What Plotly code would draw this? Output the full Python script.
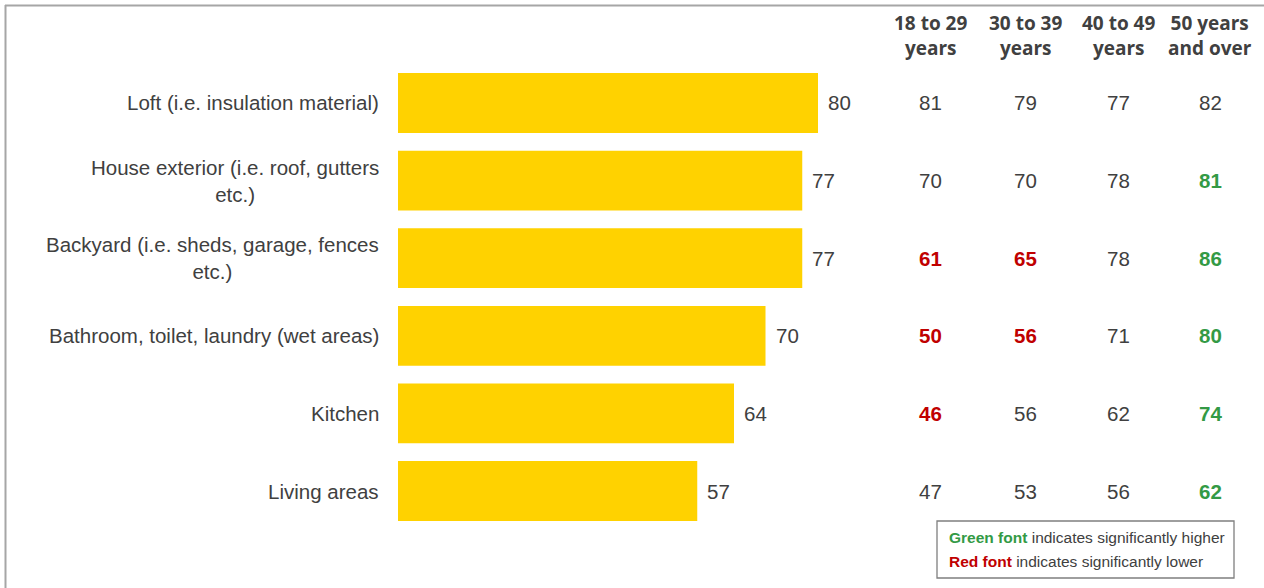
import plotly.graph_objects as go

# Areas of the home and overall scores
categories = [
    "Loft (i.e. insulation material)",
    "House exterior (i.e. roof, gutters<br>etc.)",
    "Backyard (i.e. sheds, garage, fences<br>etc.)",
    "Bathroom, toilet, laundry (wet areas)",
    "Kitchen",
    "Living areas",
]
overall = [80, 77, 77, 70, 64, 57]

# Scores by age group
age_groups = ["18 to 29<br>years", "30 to 39<br>years", "40 to 49<br>years", "50 years<br>and over"]
age_18_29 = [81, 70, 61, 50, 46, 47]
age_30_39 = [79, 70, 65, 56, 56, 53]
age_40_49 = [77, 78, 78, 71, 62, 56]
age_50_plus = [82, 81, 86, 80, 74, 62]

# Significance flags: +1 higher, -1 lower, 0 not significant
sig_18_29 = [0, 0, -1, -1, -1, 0]
sig_30_39 = [0, 0, -1, -1, 0, 0]
sig_40_49 = [0, 0, 0, 0, 0, 0]
sig_50_plus = [0, 1, 1, 1, 1, 1]

W, H = 1264, 588
BAR_COLOR = "#FFD200"
TEXT = "#404040"
RED = "#C00000"
GREEN = "#339A45"
FRAME = "#A6A6A6"
FONT = "Liberation Sans, Arial, sans-serif"
HEAD_FONT = "Open Sans, DejaVu Sans, sans-serif"
FS = 20.5


def px(x):
    return x / W


def py(y):
    return 1 - y / H


idx = list(range(len(categories)))

fig = go.Figure(
    go.Bar(
        x=overall,
        y=idx,
        orientation="h",
        marker=dict(color=BAR_COLOR, line=dict(width=0)),
        width=0.77,
        hoverinfo="skip",
    )
)

annotations = []

# Category labels, right aligned beside the bars
for i, c in zip(idx, categories):
    annotations.append(dict(
        x=px(381), xref="paper", y=i, yref="y", text=c, showarrow=False,
        xanchor="right", yanchor="middle", align="center",
        font=dict(family=FONT, size=FS, color=TEXT),
    ))

# Value labels at the end of each bar
for i, v in zip(idx, overall):
    annotations.append(dict(
        x=v, xref="x", y=i, yref="y", text=str(v), showarrow=False,
        xanchor="left", yanchor="middle", xshift=8,
        font=dict(family=FONT, size=FS, color=TEXT),
    ))

# Age-group table
col_x = [930, 1025, 1118, 1210]
col_vals = [age_18_29, age_30_39, age_40_49, age_50_plus]
col_sig = [sig_18_29, sig_30_39, sig_40_49, sig_50_plus]

for cx, head in zip(col_x, age_groups):
    annotations.append(dict(
        x=px(cx), xref="paper", y=py(35), yref="paper", text=f"<b>{head}</b>",
        showarrow=False, xanchor="center", yanchor="middle", align="center",
        font=dict(family=HEAD_FONT, size=19, color=TEXT),
    ))

for cx, vals, sigs in zip(col_x, col_vals, col_sig):
    for i, v, s in zip(idx, vals, sigs):
        if s > 0:
            txt, col = f"<b>{v}</b>", GREEN
        elif s < 0:
            txt, col = f"<b>{v}</b>", RED
        else:
            txt, col = str(v), TEXT
        annotations.append(dict(
            x=px(cx), xref="paper", y=i, yref="y", text=txt, showarrow=False,
            xanchor="center", yanchor="middle",
            font=dict(family=FONT, size=FS, color=col),
        ))

# Significance key
annotations.append(dict(
    x=px(947), xref="paper", y=py(537), yref="paper",
    text=f"<b><span style='color:{GREEN}'>Green font</span></b> indicates significantly higher",
    showarrow=False, xanchor="left", yanchor="middle",
    font=dict(family=FONT, size=15.5, color=TEXT),
))
annotations.append(dict(
    x=px(947), xref="paper", y=py(561), yref="paper",
    text=f"<b><span style='color:{RED}'>Red font</span></b> indicates significantly lower",
    showarrow=False, xanchor="left", yanchor="middle",
    font=dict(family=FONT, size=15.5, color=TEXT),
))

shapes = [
    # outer frame (top and left edges)
    dict(type="line", xref="paper", yref="paper", x0=px(5), x1=1, y0=py(5.5), y1=py(5.5),
         line=dict(color=FRAME, width=2)),
    dict(type="line", xref="paper", yref="paper", x0=px(5.5), x1=px(5.5), y0=py(5), y1=0,
         line=dict(color=FRAME, width=2)),
    # key box
    dict(type="rect", xref="paper", yref="paper", x0=px(937), x1=px(1234),
         y0=py(578), y1=py(521), line=dict(color="#7F7F7F", width=1.3),
         fillcolor="rgba(0,0,0,0)"),
]

x_end = 880
fig.update_layout(
    width=W, height=H,
    margin=dict(l=0, r=0, t=0, b=0),
    paper_bgcolor="white", plot_bgcolor="white",
    showlegend=False,
    xaxis=dict(domain=[px(398), px(x_end)], range=[0, (x_end - 398) / 5.25],
               visible=False, fixedrange=True),
    yaxis=dict(domain=[py(529.8), py(64.2)], range=[len(categories) - 0.5, -0.5],
               visible=False, fixedrange=True),
    annotations=annotations,
    shapes=shapes,
)

fig.write_html("out.html")
